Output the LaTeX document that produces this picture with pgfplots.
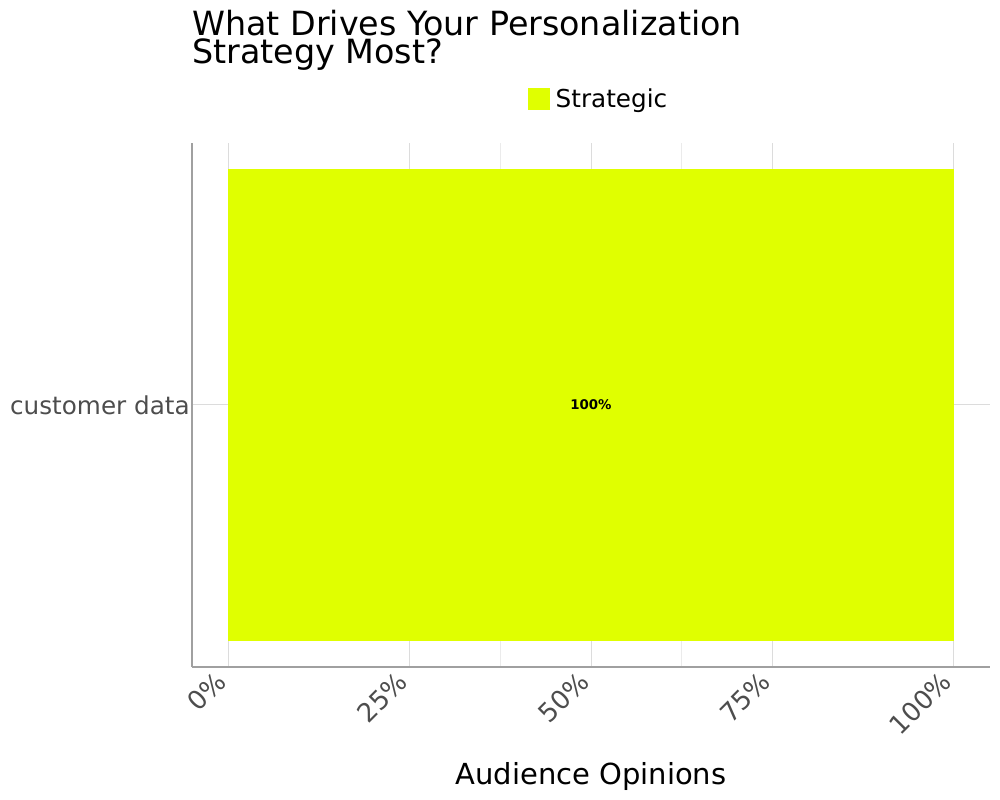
\documentclass[border=0pt]{standalone}
\usepackage{fontspec}
\setmainfont{DejaVu Sans}
\usepackage{pgfplots}
\pgfplotsset{compat=1.18}

\definecolor{barcol}{HTML}{E0FF00}
\definecolor{axisgray}{HTML}{A0A0A0}
\definecolor{tickgray}{HTML}{4D4D4D}
\definecolor{gridmaj}{HTML}{DCDCDC}
\definecolor{gridmin}{HTML}{EBEBEB}

% 1px = 0.75pt, the picture is 1000x800 px
\begin{document}
\begin{tikzpicture}
\useasboundingbox (0,0) rectangle (750pt,600pt);

\node[anchor=base west, inner sep=0pt, font=\fontsize{25}{25}\selectfont] at (144pt,573pt) {What Drives Your Personalization};
\node[anchor=base west, inner sep=0pt, font=\fontsize{25}{25}\selectfont] at (144pt,552pt) {Strategy Most?};

\begin{axis}[
    at={(144pt,99.75pt)}, anchor=south west,
    scale only axis,
    width=598.5pt, height=393pt,
    xmin=-5, xmax=105,
    ymin=-0.5, ymax=0.5,
    axis x line*=bottom, axis y line*=left,
    axis line style={draw=axisgray, line width=1.2pt, -},
    xtick={0,25,50,75,100},
    xticklabels={0\%,25\%,50\%,75\%,100\%},
    minor xtick={37.5,62.5},
    ytick={0},
    yticklabels={customer data},
    major tick length=0pt, minor tick length=0pt,
    xmajorgrids, xminorgrids, ymajorgrids,
    major grid style={draw=gridmaj, line width=0.75pt},
    minor grid style={draw=gridmin, line width=0.6pt},
    xticklabel style={xshift=-10.5pt, yshift=-2pt, rotate=45,
        anchor=north east, inner sep=0pt,
        font=\fontsize{19.5}{19.5}\selectfont, text=tickgray},
    yticklabel style={anchor=east, inner sep=0pt,
        font=\fontsize{18.5}{18.5}\selectfont, text=tickgray, xshift=-1.5pt},
    xlabel={Audience Opinions},
    xlabel style={at={(axis description cs:0.5,0)}, anchor=base,
        yshift=-87.75pt, font=\fontsize{21.75}{21.75}\selectfont},
    legend style={at={(axis description cs:0.51,1.084)}, anchor=center,
        draw=none, fill=none, font=\fontsize{18.5}{18.5}\selectfont,
        inner sep=0pt},
    legend image code/.code={
        \fill[#1] (0pt,-8.25pt) rectangle (16.5pt,8.25pt);
        \path (18.75pt,0pt);
    },
]
\addplot[xbar, fill=barcol, draw=none, bar width=0.9, bar shift=0pt]
    coordinates {(100,0)};
\addlegendentry{Strategic}

\node[font=\fontsize{10}{10}\selectfont\bfseries] at (axis cs:50,0) {100\%};
\end{axis}
\end{tikzpicture}
\end{document}
